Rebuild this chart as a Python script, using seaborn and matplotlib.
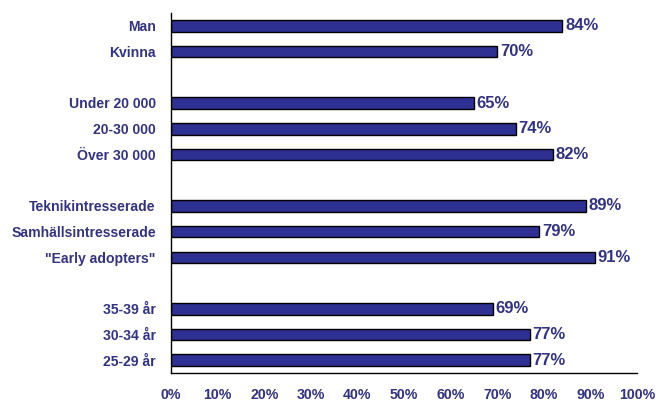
import matplotlib.pyplot as plt
import seaborn as sns
import pandas as pd
import numpy as np

# categories top to bottom, blank slots separate the groups
order = ["Man", "Kvinna", " ",
         "Under 20 000", "20-30 000", "Över 30 000", "  ",
         "Teknikintresserade", "Samhällsintresserade", "\"Early adopters\"", "   ",
         "35-39 år", "30-34 år", "25-29 år"]
groups = ["Man", "Kvinna",
          "Under 20 000", "20-30 000", "Över 30 000",
          "Teknikintresserade", "Samhällsintresserade", "\"Early adopters\"",
          "35-39 år", "30-34 år", "25-29 år"]
values = [84, 70, 65, 74, 82, 89, 79, 91, 69, 77, 77]
xticks = [0, 10, 20, 30, 40, 50, 60, 70, 80, 90, 100]

df = pd.DataFrame({"group": groups, "value": values})

sns.set_style("white")
plt.rcParams["font.family"] = ["Liberation Sans", "DejaVu Sans"]
txt = "#33337f"

fig = plt.figure(figsize=(6.56, 4.03), dpi=100)
ax = fig.add_axes([171 / 656, 1 - 373 / 403, (637 - 171) / 656, (373 - 13) / 403])
sns.barplot(data=df, x="value", y="group", order=order, color="#2e3092",
            saturation=1, edgecolor="black", linewidth=1, width=0.45, ax=ax)

for p, v in zip(ax.patches, values):
    ax.text(p.get_width() + 0.6, p.get_y() + p.get_height() / 2, f"{v}%",
            va="center", ha="left", fontsize=12, fontweight="bold", color=txt)

ax.set_xlim(0, 100)
ax.set_ylim(len(order) - 0.5, -0.5)
ax.set_xticks(xticks)
ax.set_xticklabels([f"{t}%" for t in xticks], fontsize=10.2, fontweight="bold", color=txt)
ax.set_yticks(range(len(order)))
ax.set_yticklabels(order, fontsize=10.1, fontweight="bold", color=txt)
ax.set_yticks(np.arange(-0.5, len(order)), minor=True)
ax.tick_params(axis="y", which="major", length=0, pad=11)
ax.tick_params(axis="y", which="minor", length=4, width=1, color="black", direction="out")
ax.tick_params(axis="x", length=4, width=1, color="black", direction="in", pad=11)
ax.set_xlabel("")
ax.set_ylabel("")
for s in ["top", "right"]:
    ax.spines[s].set_visible(False)
for s in ["left", "bottom"]:
    ax.spines[s].set_color("black")
    ax.spines[s].set_linewidth(1)

fig.savefig("out.png", dpi=100)
